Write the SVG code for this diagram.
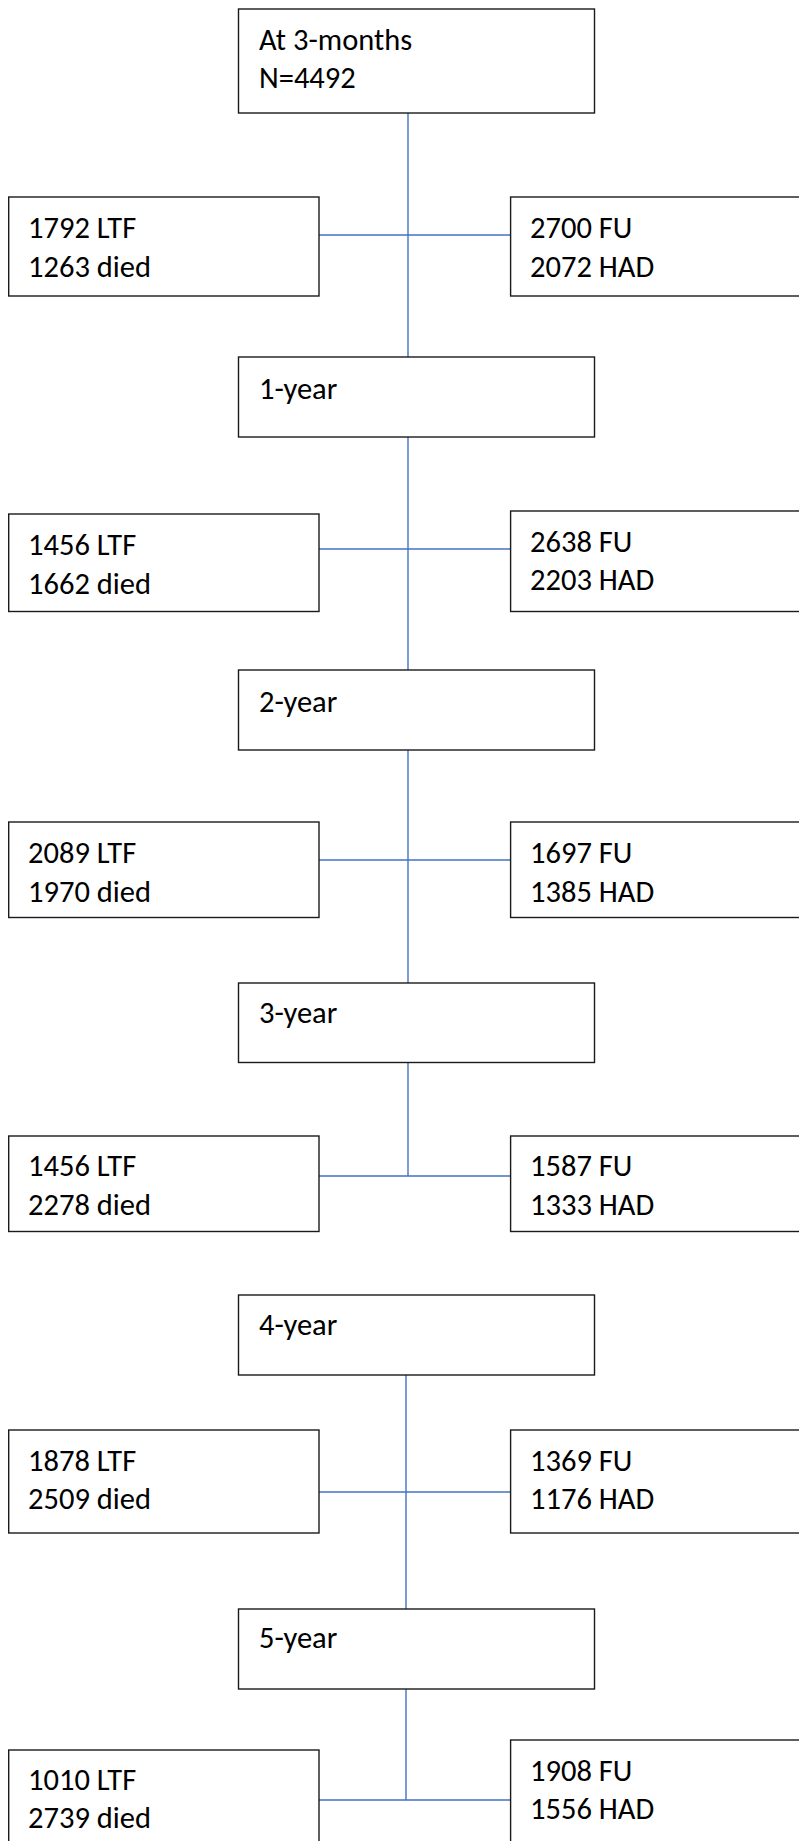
<svg xmlns="http://www.w3.org/2000/svg" width="799" height="1841" viewBox="0 0 799 1841">
<style>
.box{fill:#fff;stroke:#1a1a1a;stroke-width:1.4}
.t{font-family:"Carlito","Liberation Sans",Arial,sans-serif;font-size:30.5px;fill:#000}
.c{stroke:#4472C4;stroke-width:1.4;fill:none}
</style>
<rect width="799" height="1841" fill="#fff"/>
<g id="connectors">
<path class="c" d="M408,113 V357 M319,235 H511"/>
<path class="c" d="M408,437 V670 M319,549 H511"/>
<path class="c" d="M408,750 V983 M319,860 H511"/>
<path class="c" d="M408,1062 V1176 M319,1176 H511"/>
<path class="c" d="M406,1375 V1609 M319,1492 H511"/>
<path class="c" d="M406,1689 V1800 M319,1800 H511"/>
</g>
<g id="n_3m"><rect class="box" x="238.5" y="9" width="356" height="104"/><text class="t" x="259" y="50">At 3-months</text><text class="t" x="259" y="88">N=4492</text></g>
<g id="n_ltf0"><rect class="box" x="8.7" y="197" width="310.3" height="99"/><text class="t" x="28" y="238">1792 LTF</text><text class="t" x="28" y="277">1263 died</text></g>
<g id="n_fu0"><rect class="box" x="510.6" y="197" width="310" height="99"/><text class="t" x="530" y="238">2700 FU</text><text class="t" x="530" y="277">2072 HAD</text></g>
<g id="n_1y"><rect class="box" x="238.5" y="357" width="356" height="80"/><text class="t" x="259" y="399">1-year</text></g>
<g id="n_ltf1"><rect class="box" x="8.7" y="514" width="310.3" height="97.5"/><text class="t" x="28" y="555">1456 LTF</text><text class="t" x="28" y="594">1662 died</text></g>
<g id="n_fu1"><rect class="box" x="510.6" y="511" width="310" height="100.5"/><text class="t" x="530" y="552">2638 FU</text><text class="t" x="530" y="590">2203 HAD</text></g>
<g id="n_2y"><rect class="box" x="238.5" y="670" width="356" height="80"/><text class="t" x="259" y="712">2-year</text></g>
<g id="n_ltf2"><rect class="box" x="8.7" y="822" width="310.3" height="95.5"/><text class="t" x="28" y="863">2089 LTF</text><text class="t" x="28" y="902">1970 died</text></g>
<g id="n_fu2"><rect class="box" x="510.6" y="822" width="310" height="95.5"/><text class="t" x="530" y="863">1697 FU</text><text class="t" x="530" y="902">1385 HAD</text></g>
<g id="n_3y"><rect class="box" x="238.5" y="983" width="356" height="79.5"/><text class="t" x="259" y="1023">3-year</text></g>
<g id="n_ltf3"><rect class="box" x="8.7" y="1136" width="310.3" height="95.5"/><text class="t" x="28" y="1176">1456 LTF</text><text class="t" x="28" y="1215">2278 died</text></g>
<g id="n_fu3"><rect class="box" x="510.6" y="1136" width="310" height="95.5"/><text class="t" x="530" y="1176">1587 FU</text><text class="t" x="530" y="1215">1333 HAD</text></g>
<g id="n_4y"><rect class="box" x="238.5" y="1295" width="356" height="80"/><text class="t" x="259" y="1335">4-year</text></g>
<g id="n_ltf4"><rect class="box" x="8.7" y="1430" width="310.3" height="103"/><text class="t" x="28" y="1471">1878 LTF</text><text class="t" x="28" y="1509">2509 died</text></g>
<g id="n_fu4"><rect class="box" x="510.6" y="1430" width="310" height="103"/><text class="t" x="530" y="1471">1369 FU</text><text class="t" x="530" y="1509">1176 HAD</text></g>
<g id="n_5y"><rect class="box" x="238.5" y="1609" width="356" height="80"/><text class="t" x="259" y="1648">5-year</text></g>
<g id="n_ltf5"><rect class="box" x="8.7" y="1750" width="310.3" height="110"/><text class="t" x="28" y="1790">1010 LTF</text><text class="t" x="28" y="1828">2739 died</text></g>
<g id="n_fu5"><rect class="box" x="510.6" y="1740" width="310" height="120"/><text class="t" x="530" y="1781">1908 FU</text><text class="t" x="530" y="1819">1556 HAD</text></g>
</svg>
